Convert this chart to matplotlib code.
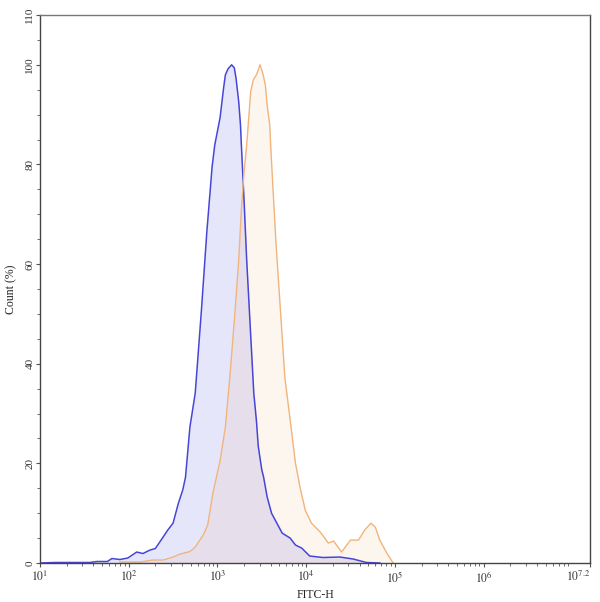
import matplotlib.pyplot as plt
import numpy as np
from matplotlib.ticker import MultipleLocator, FixedLocator, LogLocator, NullFormatter
from matplotlib.transforms import ScaledTranslation

plt.rcParams['font.family'] = ['Liberation Serif', 'DejaVu Serif']
plt.rcParams['mathtext.fontset'] = 'stix'

# log10(FITC-H) and Count (%)
blue_log = [1.0, 1.17, 1.56, 1.64, 1.76, 1.81, 1.90, 1.99, 2.09, 2.16, 2.24, 2.30,
            2.38, 2.44, 2.50, 2.56, 2.61, 2.64, 2.69, 2.75, 2.82, 2.88, 2.94, 2.97,
            3.03, 3.07, 3.09, 3.12, 3.16, 3.19, 3.21, 3.24, 3.26, 3.27, 3.30, 3.33,
            3.37, 3.41, 3.44, 3.46, 3.50, 3.52, 3.56, 3.61, 3.67, 3.73, 3.82, 3.88,
            3.95, 4.04, 4.19, 4.38, 4.53, 4.68, 4.83]
blue_cnt = [0.0, 0.1, 0.1, 0.3, 0.3, 0.9, 0.7, 1.0, 2.2, 1.9, 2.6, 2.9,
            5.0, 6.6, 8.0, 12.0, 14.7, 17.2, 27.3, 34.1, 50.8, 66.3, 79.5, 83.9,
            89.4, 95.4, 98.0, 99.2, 100.0, 99.4, 97.3, 92.6, 87.9, 83.9, 72.9, 60.8,
            47.4, 34.1, 28.5, 23.5, 18.7, 17.3, 13.3, 10.0, 8.0, 6.0, 5.0, 3.6,
            3.0, 1.4, 1.1, 1.2, 0.8, 0.1, 0.0]

orange_log = [1.90, 2.13, 2.27, 2.39, 2.50, 2.58, 2.69, 2.75, 2.84, 2.89, 2.95,
              2.99, 3.03, 3.09, 3.14, 3.20, 3.24, 3.27, 3.30, 3.33, 3.35, 3.375,
              3.405, 3.44, 3.48, 3.51, 3.54, 3.56, 3.59, 3.60, 3.63, 3.66, 3.71,
              3.76, 3.82, 3.88, 3.93, 3.99, 4.06, 4.16, 4.25, 4.31, 4.40, 4.50,
              4.59, 4.66, 4.73, 4.78, 4.83, 4.91, 4.98]
orange_cnt = [0.2, 0.2, 0.6, 0.6, 1.2, 1.8, 2.3, 3.2, 5.6, 7.6, 14.1,
              17.3, 20.5, 27.3, 37.3, 50.8, 60.8, 70.9, 78.5, 83.9, 88.6, 94.6,
              97.0, 98.0, 100.0, 98.4, 96.0, 92.0, 87.9, 83.9, 74.0, 64.3, 50.8,
              37.3, 28.7, 20.0, 15.3, 10.6, 8.0, 6.2, 4.0, 4.4, 2.2, 4.6,
              4.6, 6.6, 8.0, 7.2, 4.6, 2.0, 0.0]

xtick_pows = [1, 2, 3, 4, 5, 6, 7.2]
xtick_labels = ['$10^{1}$', '$10^{2}$', '$10^{3}$', '$10^{4}$', '$10^{5}$', '$10^{6}$', '$10^{7.2}$']
ytick_vals = [0, 20, 40, 60, 80, 100, 110]

fig = plt.figure(figsize=(6.0, 6.02), dpi=100)
ax = fig.add_axes([40 / 600, 1 - 563 / 602, 550 / 600, 548 / 602])

bx = 10 ** np.array(blue_log)
ox = 10 ** np.array(orange_log)

ax.fill_between(bx, blue_cnt, 0, color='#5050e6', alpha=0.14, lw=0)
ax.fill_between(ox, orange_cnt, 0, color='#f0a050', alpha=0.09, lw=0)
ax.plot(bx, blue_cnt, color='#4646d6', lw=1.1)
ax.plot(ox, orange_cnt, color='#f0b47c', lw=1.0)

ax.set_xscale('log')
ax.set_xlim(10, 10 ** 7.2)
ax.set_ylim(0, 110)

xt = [10 ** p for p in xtick_pows]
ax.xaxis.set_major_locator(FixedLocator(xt))
ax.set_xticklabels(xtick_labels, fontsize=8.5)
ax.xaxis.set_minor_locator(LogLocator(base=10, subs=np.arange(2, 10), numticks=20))
ax.xaxis.set_minor_formatter(NullFormatter())
last = ax.get_xticklabels()[-1]
last.set_horizontalalignment('right')
last.set_transform(last.get_transform() + ScaledTranslation(6 / 100, 0, fig.dpi_scale_trans))

ax.yaxis.set_minor_locator(MultipleLocator(5))
ax.set_yticks(ytick_vals)
ax.set_yticklabels([str(v) for v in ytick_vals], rotation=90, va='center', fontsize=8)

ax.tick_params(axis='both', which='both', direction='out', colors='#555555',
               labelcolor='#333333')
ax.tick_params(which='major', length=3, width=0.8)
ax.tick_params(which='minor', length=2, width=0.6)
ax.tick_params(axis='x', pad=2)
ax.tick_params(axis='y', pad=1)

ax.set_xlabel('FITC-H', fontsize=8.5, color='#222222', labelpad=3)
ax.set_ylabel('Count (%)', fontsize=8.5, color='#222222', labelpad=6)

for side in ['left', 'bottom', 'right']:
    ax.spines[side].set_color('#444444')
    ax.spines[side].set_linewidth(1.0)
ax.spines['top'].set_color('#777777')
ax.spines['top'].set_linewidth(1.0)

fig.savefig('out.png', dpi=100)
